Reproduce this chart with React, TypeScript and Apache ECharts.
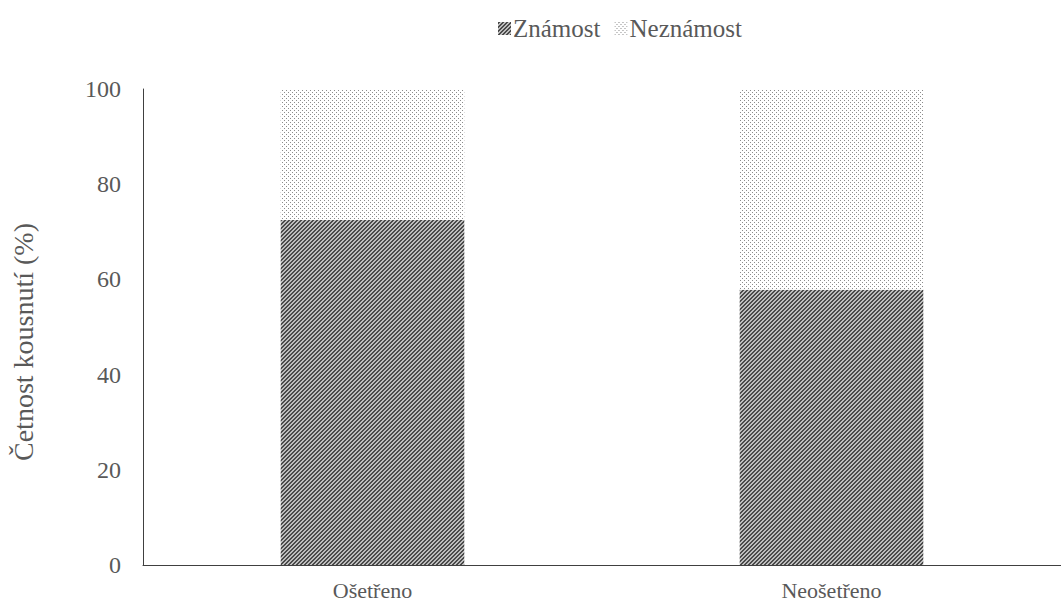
import React, { useEffect, useRef } from "react";
import * as echarts from "echarts";

const categories = ["Ošetřeno", "Neošetřeno"];
const znamost = [72.5, 57.8];
const neznamost = [27.5, 42.2];
const seriesNames = ["Známost", "Neznámost"];
const yTicks = [0, 20, 40, 60, 80, 100];

function makePattern(kind: "stripe" | "dot"): string {
  const c = document.createElement("canvas");
  c.width = 4;
  c.height = 4;
  const ctx = c.getContext("2d")!;
  ctx.fillStyle = "#ffffff";
  ctx.fillRect(0, 0, 4, 4);
  for (let x = 0; x < 4; x++) {
    for (let y = 0; y < 4; y++) {
      if (kind === "stripe") {
        ctx.fillStyle = (x + y) % 4 < 2 ? "#4a4a4a" : "#bdbdbd";
        ctx.fillRect(x, y, 1, 1);
      } else if ((x === 0 && y === 0) || (x === 2 && y === 2)) {
        ctx.fillStyle = "#8c8c8c";
        ctx.fillRect(x, y, 1, 1);
      }
    }
  }
  return c.toDataURL();
}

export default function App() {
  const ref = useRef<HTMLDivElement>(null);
  useEffect(() => {
    const chart = echarts.init(ref.current!, null, { renderer: "svg" });
    const stripe = { image: makePattern("stripe"), repeat: "repeat" } as any;
    const dots = { image: makePattern("dot"), repeat: "repeat" } as any;
    const font = "Liberation Serif";
    chart.setOption({
      animation: false,
      textStyle: { fontFamily: font },
      legend: {
        top: 11,
        left: 493,
        itemWidth: 13,
        itemHeight: 13,
        itemGap: 14,
        icon: "rect",
        textStyle: { fontFamily: font, fontSize: 25, color: "#595959", padding: [0, 0, 0, -3] },
        data: seriesNames,
      },
      grid: { left: 143, right: 0, top: 89, bottom: 43, containLabel: false },
      xAxis: {
        type: "category",
        data: categories,
        axisLine: { lineStyle: { color: "#404040", width: 1 } },
        axisTick: { show: false },
        axisLabel: { fontFamily: font, fontSize: 22, color: "#595959", margin: 14 },
      },
      yAxis: {
        type: "value",
        min: 0,
        max: 100,
        interval: 20,
        name: "Četnost kousnutí (%)",
        nameLocation: "middle",
        nameGap: 106,
        nameTextStyle: { fontFamily: font, fontSize: 28, color: "#595959", padding: [0, 30, 0, 0] },
        axisLine: { show: true, lineStyle: { color: "#404040", width: 1 } },
        axisTick: { show: false },
        splitLine: { show: false },
        axisLabel: {
          fontFamily: font,
          fontSize: 24,
          color: "#595959",
          margin: 22,
          formatter: (v: number) => (yTicks.includes(v) ? String(v) : ""),
        },
      },
      series: [
        {
          name: seriesNames[0],
          type: "bar",
          stack: "a",
          barWidth: "40%",
          data: znamost,
          itemStyle: { color: stripe },
        },
        {
          name: seriesNames[1],
          type: "bar",
          stack: "a",
          barWidth: "40%",
          data: neznamost,
          itemStyle: { color: dots },
        },
      ],
    });
    return () => chart.dispose();
  }, []);
  return (
    <div
      ref={ref}
      style={{ position: "fixed", left: 0, top: 0, width: 1061, height: 608, background: "#fff" }}
    />
  );
}
